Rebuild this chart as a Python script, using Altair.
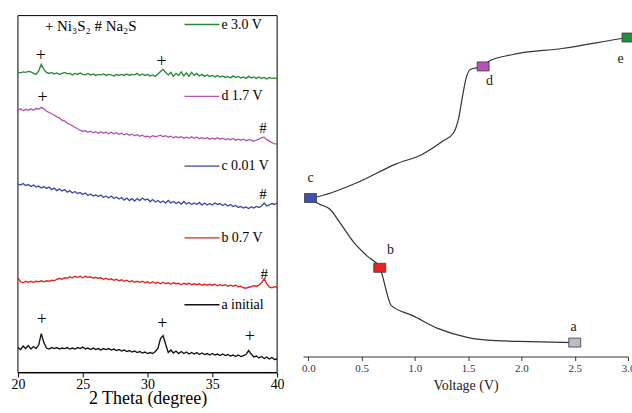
import altair as alt
import pandas as pd

SERIF = "Liberation Serif"

# ---------------- left panel: XRD patterns ----------------
THETA = [
    20.0, 20.2, 20.4, 20.6, 20.8, 21.0, 21.2, 21.4, 21.6, 21.8,
    22.0, 22.2, 22.4, 22.6, 22.8, 23.0, 23.2, 23.4, 23.6, 23.8,
    24.0, 24.2, 24.4, 24.6, 24.8, 25.0, 25.2, 25.4, 25.6, 25.8,
    26.0, 26.2, 26.4, 26.6, 26.8, 27.0, 27.2, 27.4, 27.6, 27.8,
    28.0, 28.2, 28.4, 28.6, 28.8, 29.0, 29.2, 29.4, 29.6, 29.8,
    30.0, 30.2, 30.4, 30.6, 30.8, 31.0, 31.2, 31.4, 31.6, 31.8,
    32.0, 32.2, 32.4, 32.6, 32.8, 33.0, 33.2, 33.4, 33.6, 33.8,
    34.0, 34.2, 34.4, 34.6, 34.8, 35.0, 35.2, 35.4, 35.6, 35.8,
    36.0, 36.2, 36.4, 36.6, 36.8, 37.0, 37.2, 37.4, 37.6, 37.8,
    38.0, 38.2, 38.4, 38.6, 38.8, 39.0, 39.2, 39.4, 39.6, 39.8,
    40.0,
]

E_30V = [
    301, 300.5, 301.5, 301, 302, 301.5, 300, 299, 302.5, 309,
    304, 301, 300, 301, 299.5, 300.5, 299, 300, 301, 299.5,
    300, 298.5, 300, 299, 300.5, 299, 298.5, 300, 298.5, 299.5,
    298, 299, 298.5, 299.5, 298, 299, 298.5, 297.5, 299, 298,
    299, 298, 299.5, 298, 299, 298.5, 300, 298, 299.5, 298,
    299, 297.5, 298.5, 297, 299.5, 302, 304, 301, 298.5, 301,
    297, 300, 298, 301.5, 297.5, 300.5, 297, 301, 298, 300,
    297.5, 299, 297, 298.5, 297, 298, 296.5, 298, 296.5, 297.5,
    296, 297, 295.5, 297.5, 296, 297, 295.5, 296.5, 295, 297,
    295.5, 296.5, 295, 296.5, 295, 296, 294.5, 296, 295, 295.5,
    294.5,
]

D_17V = [
    263, 264.5, 262.5, 264, 263, 264.5, 263, 265, 264, 266,
    264.5, 262, 261, 259.5, 258, 256.5, 255.5, 253, 252.5, 250,
    249, 247.5, 246, 244.5, 243, 242, 242.5, 241, 242, 240.5,
    241.5, 240, 241.5, 240, 241, 239.5, 241, 239.5, 240.5, 239,
    240, 238.5, 239.5, 238, 239, 237.5, 238.5, 237, 238, 236.5,
    237, 236, 237.5, 236.5, 237, 238, 236.5, 237.5, 236, 237,
    235.5, 236.5, 235.5, 236.5, 235, 236, 235, 236.5, 235, 236,
    234.5, 235.5, 234.5, 235.5, 234, 235, 234, 235.5, 234, 235,
    233.5, 234.5, 233.5, 234.5, 233, 234, 233, 234, 232.5, 233.5,
    233, 232, 233, 234, 235.5, 236, 233.5, 232, 230.5, 229.5,
    229,
]

C_001V = [
    189, 188, 189.5, 187.5, 188.5, 186.5, 188, 186, 187, 185,
    186.5, 184.5, 186, 183.5, 185, 182.5, 184, 182, 183.5, 181,
    182.5, 180, 181.5, 179.5, 180.5, 178.5, 180, 177.5, 179, 177,
    178, 176.5, 178, 175.5, 177, 175, 177, 174.5, 176, 174,
    175.5, 173, 175, 172.5, 174.5, 172, 174.5, 172.5, 175, 173,
    174, 171.5, 173.5, 171, 172.5, 170.5, 172, 170, 172.5, 170,
    171.5, 169.5, 171, 169, 171.5, 169, 170.5, 168.5, 170, 168.5,
    170.5, 168, 170, 168, 169.5, 168, 170, 168.5, 169.5, 167.5,
    169, 167, 168.5, 166.5, 167.5, 165.5, 166.5, 165, 166, 164.5,
    166, 165, 166.5, 165.5, 167, 170, 167, 168, 169.5, 168.5,
    170,
]

B_07V = [
    95, 91, 90, 91.5, 90.5, 91.5, 90.5, 91.5, 91, 92,
    91, 92, 91.5, 92.5, 92, 93.5, 94.5, 93.5, 95, 94.5,
    96, 95, 96.5, 95.5, 96.5, 95, 96.5, 95.5, 96, 94.5,
    95.5, 94.5, 95, 93.5, 94.5, 93, 94, 92.5, 93.5, 92,
    93, 91.5, 92.5, 91, 92, 90.5, 91.5, 90.5, 91.5, 90,
    91, 89.5, 91, 89.5, 90.5, 89, 90.5, 89, 90, 88.5,
    90, 89, 89.5, 88, 89.5, 88.5, 89.5, 88, 89, 88,
    89, 87.5, 88.5, 87.5, 88.5, 87.5, 88.5, 87, 88, 87,
    88, 86.5, 87.5, 86.5, 87.5, 86, 86.5, 85, 84.5, 85.5,
    86, 87, 86.5, 87.5, 90, 94, 89, 85.5, 85, 86,
    85.5,
]

A_INITIAL = [
    25, 23, 26.5, 24, 27, 23.5, 26, 24, 27.5, 39,
    30, 24.5, 23.5, 25, 24, 25, 23.5, 24.5, 24, 25,
    23.5, 24.5, 23.5, 25, 24, 25.5, 23.5, 24.5, 23, 24.5,
    23, 24, 22.5, 24, 23, 24, 22.5, 23.5, 22, 23,
    21.5, 22.5, 21, 22, 20.5, 21.5, 20, 21, 19.5, 20.5,
    19, 20, 19, 21, 24, 34, 37, 28, 20, 22.5,
    19.5, 21.5, 19, 21, 19, 20.5, 18.5, 20, 18.5, 20,
    18, 19.5, 18, 19, 17.5, 19, 17.5, 18.5, 17, 18.5,
    17, 18, 16.5, 17.5, 16, 17.5, 16, 17, 18, 22,
    18.5, 15.5, 16.5, 14.5, 16, 14, 15.5, 13.5, 15, 13,
    13.5,
]

SERIES = ["e", "d", "c", "b", "a"]
SERIES_VALUES = [E_30V, D_17V, C_001V, B_07V, A_INITIAL]
SERIES_COLORS = ["#2a8a3c", "#b455b5", "#3a48a6", "#e0241f", "#111111"]

LEGEND_LABELS = ["e 3.0 V", "d 1.7 V", "c 0.01 V", "b 0.7 V", "a initial"]
LEGEND_Y = [349, 277, 207, 135, 68]
LEGEND_X0 = 32.85
LEGEND_X1 = 35.55
LEGEND_TX = 35.7

PEAK_SYMBOLS = ["+", "+", "+", "#", "#", "#", "+", "+", "+"]
PEAK_THETA = [21.77, 31.08, 21.9, 38.9, 38.9, 39.0, 21.85, 31.15, 37.9]
PEAK_Y = [317, 311, 275, 245, 179, 99, 53, 49, 36]

PHASE_TEXT = "+ Ni\u2083S\u2082  # Na\u2082S"
PHASE_THETA = 22.08
PHASE_Y = 348

X_RANGE = [20, 40]
Y_RANGE = [0, 358]

rows = []
for s, vals in zip(SERIES, SERIES_VALUES):
    for t, v in zip(THETA, vals):
        rows.append({"theta": t, "intensity": v, "series": s})
xrd = pd.DataFrame(rows)

legend_df = pd.DataFrame({
    "series": SERIES, "label": LEGEND_LABELS, "y": LEGEND_Y,
    "x0": [LEGEND_X0] * 5, "x1": [LEGEND_X1] * 5, "tx": [LEGEND_TX] * 5,
})
sym_df = pd.DataFrame({"sym": PEAK_SYMBOLS, "theta": PEAK_THETA, "y": PEAK_Y})
plus_only = sym_df[sym_df["sym"] == "+"]
hash_only = sym_df[sym_df["sym"] == "#"]
phase_df = pd.DataFrame({"label": [PHASE_TEXT], "px": [PHASE_THETA], "py": [PHASE_Y]})
frame_df = pd.DataFrame({"x0": [X_RANGE[0]], "x1": [X_RANGE[1]], "y0": [Y_RANGE[0]], "y1": [Y_RANGE[1]]})

xs_left = alt.Scale(domain=X_RANGE, nice=False)
ys_left = alt.Scale(domain=Y_RANGE, nice=False)
color_scale = alt.Scale(domain=SERIES, range=SERIES_COLORS)

left_axis = alt.Axis(
    values=[20, 22.5, 25, 27.5, 30, 32.5, 35, 37.5, 40],
    labelExpr="datum.value % 5 === 0 ? datum.label : ''",
    labelFlush=False,
    tickSize={"condition": {"test": "datum.value % 5 !== 0", "value": 2.5}, "value": 4.5},
    tickColor="black", domainColor="black", tickWidth=1, domainWidth=1,
    labelFont=SERIF, labelFontSize=14, labelColor="black", labelPadding=1,
    title="2 Theta (degree)", titleFont=SERIF, titleFontSize=18,
    titleFontWeight="normal", titleColor="black", titlePadding=-2, grid=False,
)

frame = alt.Chart(frame_df).mark_rect(
    fillOpacity=0, stroke="black", strokeWidth=1
).encode(
    x=alt.X("x0:Q", scale=xs_left, axis=left_axis),
    x2="x1:Q",
    y=alt.Y("y0:Q", scale=ys_left, axis=None),
    y2="y1:Q",
)

lines_left = alt.Chart(xrd).mark_line(strokeWidth=1.35).encode(
    x=alt.X("theta:Q", scale=xs_left),
    y=alt.Y("intensity:Q", scale=ys_left),
    color=alt.Color("series:N", scale=color_scale, legend=None),
    detail="series:N",
)

legend_lines = alt.Chart(legend_df).mark_rule(strokeWidth=1.4).encode(
    x="x0:Q", x2="x1:Q", y="y:Q",
    color=alt.Color("series:N", scale=color_scale, legend=None),
)
legend_text = alt.Chart(legend_df).mark_text(
    align="left", baseline="middle", font=SERIF, fontSize=14, fill="black"
).encode(x="tx:Q", y="y:Q", text="label:N")

plus_text = alt.Chart(plus_only).mark_text(
    align="center", baseline="middle", font=SERIF, fontSize=18, fill="black"
).encode(x="theta:Q", y="y:Q", text="sym:N")

hash_text = alt.Chart(hash_only).mark_text(
    align="center", baseline="middle", font=SERIF, fontSize=15, fill="black"
).encode(x="theta:Q", y="y:Q", text="sym:N")

phase_label = alt.Chart(phase_df).mark_text(
    align="left", baseline="middle", font=SERIF, fontSize=15, fill="black"
).encode(x="px:Q", y="py:Q", text="label:N")

left = alt.layer(frame, lines_left, legend_lines, legend_text, plus_text, hash_text, phase_label).properties(
    width=260, height=358,
)

# ---------------- right panel: voltage profile ----------------
DIS_V = [0.02, 0.10, 0.20, 0.31, 0.43, 0.55, 0.67, 0.78, 0.98, 1.22, 1.50, 1.76, 2.07, 2.50]
DIS_Y = [159, 153, 148, 132, 114, 101, 89, 51, 41, 28, 19, 16, 15, 14]
CHG_V = [0.02, 0.075, 0.45, 0.82, 1.07, 1.26, 1.36, 1.41, 1.45, 1.48, 1.52, 1.64, 1.69, 1.92, 2.38, 2.94, 3.0]
CHG_Y = [159, 160, 174, 193, 203, 216, 224, 239, 263, 279, 288, 291, 296, 303, 309, 319, 320]

PT_NAMES = ["a", "b", "c", "d", "e"]
PT_V = [2.50, 0.67, 0.02, 1.64, 3.0]
PT_Y = [14, 89, 159, 291, 320]
PT_COLORS = ["#b9bdc6", "#e3261f", "#3f51b0", "#b852b8", "#1f8f3f"]
LBL_V = [2.49, 0.77, 0.02, 1.70, 2.93]
LBL_Y = [30, 107, 179, 276, 298]

curve = pd.DataFrame({
    "v": DIS_V + CHG_V,
    "y": DIS_Y + CHG_Y,
    "branch": ["discharge"] * len(DIS_V) + ["charge"] * len(CHG_V),
})
pts = pd.DataFrame({"name": PT_NAMES, "v": PT_V, "y": PT_Y, "lv": LBL_V, "ly": LBL_Y})

xs_right = alt.Scale(domain=[-0.05, 3.0], nice=False)
ys_right = alt.Scale(domain=[0, 342], nice=False)

right_axis = alt.Axis(
    values=[0, 0.25, 0.5, 0.75, 1.0, 1.25, 1.5, 1.75, 2.0, 2.25, 2.5, 2.75, 3.0],
    labelExpr="(datum.value * 2) % 1 === 0 ? format(datum.value, '.1f') : ''",
    labelFlush=False,
    tickSize={"condition": {"test": "(datum.value * 2) % 1 !== 0", "value": 2.5}, "value": 4},
    tickColor="#333333", domainColor="#333333", tickWidth=1, domainWidth=1,
    labelFont=SERIF, labelFontSize=11, labelColor="#333333", labelPadding=2,
    title="Voltage (V)", titleFont=SERIF, titleFontSize=14, titleFontWeight="normal",
    titleColor="#222222", titlePadding=5, grid=False,
)

curve_line = alt.Chart(curve).mark_line(
    color="#333333", strokeWidth=1.2, interpolate="monotone"
).encode(
    x=alt.X("v:Q", scale=xs_right, axis=right_axis),
    y=alt.Y("y:Q", scale=ys_right, axis=None),
    detail="branch:N",
)

markers = alt.Chart(pts).mark_point(
    shape="M-1.2,-0.9L1.2,-0.9L1.2,0.9L-1.2,0.9Z",
    filled=True, size=100, stroke="#3a3a3a", strokeWidth=0.8, opacity=1,
).encode(
    x="v:Q", y="y:Q",
    fill=alt.Fill("name:N", scale=alt.Scale(domain=PT_NAMES, range=PT_COLORS), legend=None),
)

pt_labels = alt.Chart(pts).mark_text(
    align="center", baseline="middle", font=SERIF, fontSize=14, fill="#222222"
).encode(x="lv:Q", y="ly:Q", text="name:N")

right = alt.layer(curve_line, markers, pt_labels).properties(
    width=326, height=342,
)

chart = alt.hconcat(left, right, spacing=26, bounds="flush").properties(
    padding={"left": 11, "top": 14, "right": -4, "bottom": 0},
    background="white",
).configure_view(strokeWidth=0)

chart.save("out.html", embed_options={"renderer": "svg", "actions": False})
